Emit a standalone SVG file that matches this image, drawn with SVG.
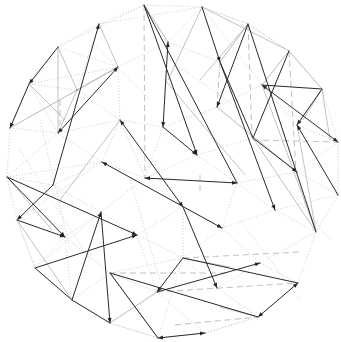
<svg xmlns="http://www.w3.org/2000/svg" width="341" height="342" viewBox="0 0 341 342">
<style>
.d{stroke:#2a2a2a;stroke-width:1;fill:none}
.m{stroke:#a8a8a8;stroke-width:0.7;fill:none}
.l{stroke:#c4c4c4;stroke-width:0.7;stroke-dasharray:1.2 1.8;fill:none}
.s{stroke:#c0c0c0;stroke-width:1;stroke-dasharray:6 4;fill:none}
.n{fill:#777}
.e{marker-end:url(#a)}
.b{marker-start:url(#a);marker-end:url(#a)}
</style>
<defs>
<marker id="a" viewBox="0 0 10 10" refX="10" refY="5" markerWidth="6" markerHeight="5" markerUnits="userSpaceOnUse" orient="auto-start-reverse"><path d="M0,1 L10,5 L0,9 z" fill="#222"/></marker>
</defs>
<rect width="341" height="342" fill="#fff"/>
<g id="connectors">
<path class="l" d="M144,5 L202,7 L248,24 L289,51 L322,89 L338,142 L338,195 L316,232 L298,283 L258,317 L205,333 L158,338 L110,323 L72,300 L35,268 L17,220 L7,177 L10,128 L29,84 L58,47 L99,24 Z"/>
<path class="l" d="M58,47 L144,5 M99,24 L202,7 M58,47 L118,67 M29,84 L118,67 M29,84 L77,90 M10,128 L77,90 M10,128 L58,133 M7,177 L58,133 M7,177 L102,162 M17,220 L102,162 M7,177 L53,185 M17,220 L35,268 M35,268 L65,237 M65,237 L101,212 M65,237 L110,273 M72,300 L110,273 M110,323 L158,338 M110,273 L157,292 M137,235 L183,258 M137,235 L157,292 M110,273 L183,258 M157,292 L205,333 M205,333 L258,317 M183,258 L217,288 M217,288 L258,317 M217,288 L260,263 M260,263 L298,283 M260,263 L316,232 M222,228 L260,263 M222,228 L275,210 M275,210 L316,232 M275,210 L338,195 M297,172 L338,195 M297,172 L338,142 M297,125 L338,142 M297,125 L322,89 M262,85 L297,125 M248,24 L289,51 M202,7 L248,24 M202,7 L262,85 M144,5 L168,42 M168,42 L220,62 M118,67 L168,42 M118,67 L120,120 M77,90 L120,120 M58,133 L120,120 M58,133 L102,162 M102,162 L120,120 M120,120 L163,127 M163,127 L217,107 M217,107 L253,138 M197,155 L253,138 M197,155 L237,183 M145,178 L197,155 M145,178 L183,207 M102,162 L145,178 M101,212 L145,178 M101,212 L137,235 M137,235 L183,207 M183,207 L222,228 M222,228 L237,183 M237,183 L275,210 M237,183 L297,172 M253,138 L297,172 M183,258 L222,228 M183,207 L183,258 M65,237 L72,300 M35,268 L101,212 M53,185 L101,212 M53,185 L102,162 M29,84 L58,133 M99,24 L77,90 M168,42 L202,7 M220,62 L248,24 M262,85 L289,51 M217,107 L262,85 M120,120 L145,178 M163,127 L145,178 M158,338 L183,258 M110,323 L157,292 M40,120 L70,250 M20,150 L90,260 M130,180 L160,280 M240,220 L300,300 M290,190 L330,240 M170,60 L240,110 M90,40 L150,100"/>
<path class="s" d="M144,5 L145,178 M220,62 L217,107 M248,24 L252,138 M289,51 L296,172 M253,140 L338,142 M110,273 L230,273 M183,258 L300,252 M157,292 L298,283 M175,325 L258,317 M200,175 L200,195 M60,100 L60,125"/>
<path class="m" d="M58,47 L77,90 M99,24 L118,67 M77,90 L58,133 M10,128 L118,67 M77,90 L118,67 M58,47 L58,133 M29,84 L65,120 M144,5 L168,42 M202,7 L168,80 M248,24 L220,62 M289,51 L262,85 M289,51 L322,89 M322,89 L303,120 M322,89 L330,140 M248,24 L200,80 M7,177 L52,230 M17,220 L72,300 M110,273 L158,338 M183,258 L230,267 M262,85 L316,232 M253,138 L316,232 M297,125 L316,232 M217,107 L297,172 M202,7 L289,51 M120,120 L60,200 M157,292 L110,323 M258,317 L220,307 M165,80 L245,175"/>
<path class="d e" d="M58,47 L29,84"/>
<path class="d e" d="M29,84 L10,128"/>
<path class="d e" d="M53,185 L99,24"/>
<path class="d e" d="M53,185 L17,220"/>
<path class="d b" d="M58,133 L118,67"/>
<path class="d e" d="M7,177 L137,235"/>
<path class="d e" d="M35,268 L137,235"/>
<path class="d e" d="M7,177 L65,237"/>
<path class="d e" d="M17,220 L65,237"/>
<path class="d e" d="M72,300 L101,212"/>
<path class="d e" d="M101,212 L110,323"/>
<path class="d" d="M35,268 L72,300"/>
<path class="d" d="M72,300 L110,323"/>
<path class="d" d="M110,273 L158,338"/>
<path class="d" d="M110,273 L258,317"/>
<path class="d b" d="M158,338 L205,333"/>
<path class="d e" d="M183,258 L157,292"/>
<path class="d e" d="M157,292 L260,263"/>
<path class="d" d="M183,258 L298,283"/>
<path class="d b" d="M298,283 L258,317"/>
<path class="d e" d="M183,207 L217,288"/>
<path class="d b" d="M120,120 L183,207"/>
<path class="d b" d="M102,162 L222,228"/>
<path class="d b" d="M145,178 L237,183"/>
<path class="d e" d="M144,5 L197,155"/>
<path class="d" d="M144,5 L237,183"/>
<path class="d b" d="M168,42 L163,127"/>
<path class="d e" d="M163,127 L197,155"/>
<path class="d e" d="M202,7 L220,62"/>
<path class="d e" d="M220,62 L275,210"/>
<path class="d e" d="M248,24 L217,107"/>
<path class="d" d="M248,24 L316,232"/>
<path class="d" d="M289,51 L253,138"/>
<path class="d" d="M262,85 L322,89"/>
<path class="d b" d="M338,142 L262,85"/>
<path class="d e" d="M322,89 L297,125"/>
<path class="d e" d="M338,195 L297,125"/>
<path class="d e" d="M253,138 L297,172"/>
<path class="d" d="M220,62 L253,138"/>
</g>
<g id="nodes">
<circle id="n1" class="n" cx="99" cy="24" r="0.8"/>
<circle id="n2" class="n" cx="58" cy="47" r="0.8"/>
<circle id="n3" class="n" cx="118" cy="67" r="0.8"/>
<circle id="n4" class="n" cx="29" cy="84" r="0.8"/>
<circle id="n5" class="n" cx="77" cy="90" r="0.8"/>
<circle id="n6" class="n" cx="10" cy="128" r="0.8"/>
<circle id="n7" class="n" cx="58" cy="133" r="0.8"/>
<circle id="n9" class="n" cx="144" cy="5" r="0.8"/>
<circle id="n10" class="n" cx="168" cy="42" r="0.8"/>
<circle id="n11" class="n" cx="202" cy="7" r="0.8"/>
<circle id="n12" class="n" cx="220" cy="62" r="0.8"/>
<circle id="n13" class="n" cx="248" cy="24" r="0.8"/>
<circle id="n14" class="n" cx="289" cy="51" r="0.8"/>
<circle id="n15" class="n" cx="262" cy="85" r="0.8"/>
<circle id="n16" class="n" cx="322" cy="89" r="0.8"/>
<circle id="n17" class="n" cx="217" cy="107" r="0.8"/>
<circle id="n18" class="n" cx="120" cy="120" r="0.8"/>
<circle id="n19" class="n" cx="163" cy="127" r="0.8"/>
<circle id="n20" class="n" cx="197" cy="155" r="0.8"/>
<circle id="n21" class="n" cx="253" cy="138" r="0.8"/>
<circle id="n22" class="n" cx="297" cy="125" r="0.8"/>
<circle id="n23" class="n" cx="297" cy="172" r="0.8"/>
<circle id="n24" class="n" cx="338" cy="142" r="0.8"/>
<circle id="n25" class="n" cx="338" cy="195" r="0.8"/>
<circle id="n26" class="n" cx="275" cy="210" r="0.8"/>
<circle id="n27" class="n" cx="316" cy="232" r="0.8"/>
<circle id="n28" class="n" cx="7" cy="177" r="0.8"/>
<circle id="n29" class="n" cx="53" cy="185" r="0.8"/>
<circle id="n30" class="n" cx="17" cy="220" r="0.8"/>
<circle id="n31" class="n" cx="65" cy="237" r="0.8"/>
<circle id="n32" class="n" cx="102" cy="162" r="0.8"/>
<circle id="n33" class="n" cx="145" cy="178" r="0.8"/>
<circle id="n34" class="n" cx="237" cy="183" r="0.8"/>
<circle id="n35" class="n" cx="101" cy="212" r="0.8"/>
<circle id="n36" class="n" cx="183" cy="207" r="0.8"/>
<circle id="n37" class="n" cx="222" cy="228" r="0.8"/>
<circle id="n38" class="n" cx="35" cy="268" r="0.8"/>
<circle id="n39" class="n" cx="72" cy="300" r="0.8"/>
<circle id="n40" class="n" cx="110" cy="323" r="0.8"/>
<circle id="n41" class="n" cx="110" cy="273" r="0.8"/>
<circle id="n42" class="n" cx="158" cy="338" r="0.8"/>
<circle id="n43" class="n" cx="205" cy="333" r="0.8"/>
<circle id="n44" class="n" cx="157" cy="292" r="0.8"/>
<circle id="n45" class="n" cx="183" cy="258" r="0.8"/>
<circle id="n46" class="n" cx="260" cy="263" r="0.8"/>
<circle id="n47" class="n" cx="298" cy="283" r="0.8"/>
<circle id="n48" class="n" cx="258" cy="317" r="0.8"/>
<circle id="n49" class="n" cx="137" cy="235" r="0.8"/>
<circle id="n50" class="n" cx="217" cy="288" r="0.8"/>
</g>
</svg>
